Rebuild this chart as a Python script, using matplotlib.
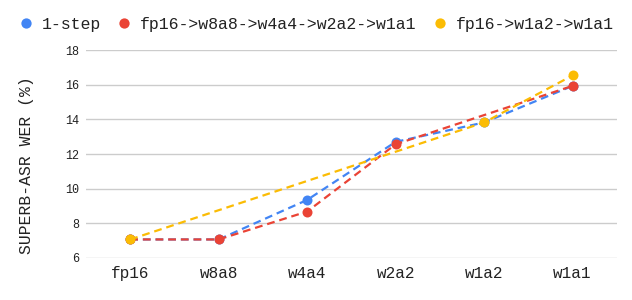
import matplotlib
matplotlib.use("Agg")
import matplotlib.pyplot as plt
from matplotlib.lines import Line2D
import numpy as np

# donnees
categories = ["fp16", "w8a8", "w4a4", "w2a2", "w1a2", "w1a1"]
one_step = [7.07, 7.07, 9.35, 12.7, 13.82, 15.93]
progressive = [7.07, 7.07, 8.68, 12.56, np.nan, 15.93]
via_w1a2 = [7.07, np.nan, np.nan, np.nan, 13.82, 16.53]
noms = ["1-step", "fp16->w8a8->w4a4->w2a2->w1a1", "fp16->w1a2->w1a1"]
couleurs = ["#4285F4", "#EA4335", "#FBBC04"]

plt.rcParams['font.family'] = ['Liberation Mono', 'DejaVu Sans']

fig = plt.figure(figsize=(6.32, 3.0), dpi=100)
ax = fig.add_axes([0.136, 0.14, 0.84, 0.6933])

x = np.arange(len(categories))
for serie, c in zip([one_step, progressive, via_w1a2], couleurs):
  y = np.array(serie, dtype=float)
  ok = ~np.isnan(y)  # on relie par-dessus les valeurs manquantes
  ax.plot(x[ok], y[ok], color=c, linestyle=(0, (3.5, 2.2)), linewidth=1.6,
          marker='o', markersize=7.2, markeredgewidth=0, zorder=3)

ax.set_xlim(-0.5, len(categories) - 0.5)
ax.set_ylim(6, 18)
ax.set_yticks([6, 8, 10, 12, 14, 16, 18])
ax.set_xticks(x)
ax.set_xticklabels(categories, fontsize=11.5, color='#222222')
ax.tick_params(axis='y', labelsize=8.5, labelcolor='#222222', length=0, pad=5)
ax.tick_params(axis='x', length=0, pad=6)
ax.grid(axis='y', color='#cccccc', linewidth=1)
ax.set_axisbelow(True)
for s in ax.spines.values():
  s.set_visible(False)
fig.text(27 / 632, 1 - 165.5 / 300, 'SUPERB-ASR WER (%)', rotation=90,
         ha='center', va='center', fontsize=11.8, color='#222222')

handles = [Line2D([], [], color=c, marker='o', linestyle='none', markersize=7.4,
                  markeredgewidth=0) for c in couleurs]
fig.legend(handles, noms, loc='center left', bbox_to_anchor=(0.028, 0.92),
           ncol=3, frameon=False, fontsize=11.9, handletextpad=0.47,
           columnspacing=0.89, handlelength=1.0, borderpad=0, borderaxespad=0,
           labelcolor='#222222')

fig.savefig('out.png', dpi=100)
